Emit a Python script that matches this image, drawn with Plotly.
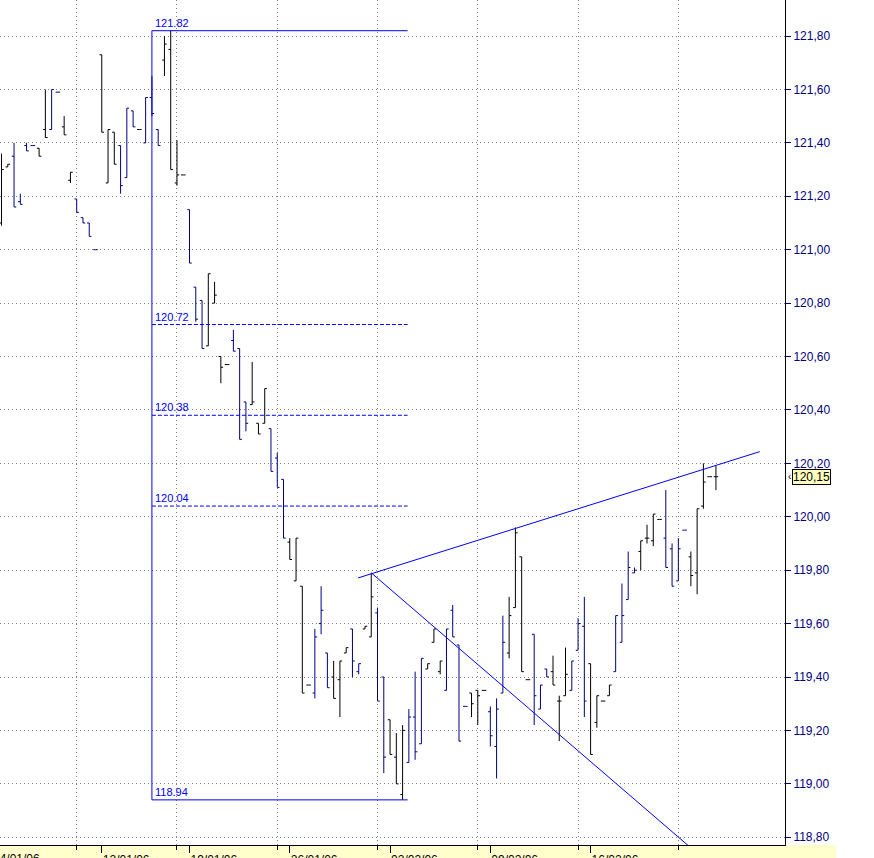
import plotly.graph_objects as go

# ---------------- data ----------------
opens = [121.10, 121.31, 121.35, 121.18, 121.39, 121.39, 121.38, 121.45, 121.45, 121.59,
         121.46, 121.26, 121.19, 121.12, 121.10, 121.00, 121.73, 121.25, 121.44, 121.39,
         121.27, 121.52, 121.45, 121.40, 121.57, 121.45, 121.71, 121.75, 121.25, 121.28,
         121.15, 120.86, 120.81, 120.64, 120.80, 120.60, 120.57, 120.66, 120.63, 120.43,
         120.42, 120.35, 120.35, 120.33, 120.22, 120.14, 119.905, 119.76, 119.74, 119.37,
         119.34, 119.60, 119.49, 119.40, 119.39, 119.49, 119.58, 119.42, 119.58, 119.55,
         119.64, 119.40, 119.24, 119.10, 118.96, 119.08, 119.25, 119.15, 119.43, 119.53,
         119.42, 119.35, 119.65, 119.52, 119.29, 119.34, 119.35, 119.35, 119.27, 119.14,
         119.34, 119.49, 119.66, 119.85, 119.39, 119.56, 119.28, 119.43, 119.42, 119.31,
         119.33, 119.35, 119.50, 119.59, 119.45, 119.23, 119.31, 119.33, 119.42, 119.53,
         119.69, 119.79, 119.87, 119.92, 119.91, 119.99, 119.92, 119.88, 119.76, 119.95,
         119.85, 119.79, 120.04, 120.15, 120.15]
highs = [121.36, 121.32, 121.40, 121.21, 121.40, 121.39, 121.38, 121.60, 121.60, 121.59,
         121.50, 121.29, 121.19, 121.12, 121.10, 121.00, 121.73, 121.45, 121.44, 121.39,
         121.53, 121.52, 121.45, 121.57, 121.65, 121.45, 121.80, 121.82, 121.41, 121.28,
         121.15, 120.86, 120.81, 120.91, 120.88, 120.60, 120.57, 120.70, 120.63, 120.43,
         120.58, 120.35, 120.48, 120.33, 120.24, 120.14, 119.92, 119.92, 119.74, 119.37,
         119.58, 119.74, 119.49, 119.46, 119.46, 119.51, 119.58, 119.45, 119.59, 119.79,
         119.66, 119.40, 119.24, 119.19, 119.22, 119.28, 119.42, 119.47, 119.45, 119.58,
         119.46, 119.58, 119.67, 119.52, 119.29, 119.34, 119.35, 119.35, 119.29, 119.32,
         119.63, 119.70, 119.96, 119.85, 119.39, 119.56, 119.37, 119.43, 119.48, 119.33,
         119.51, 119.46, 119.62, 119.70, 119.45, 119.33, 119.31, 119.37, 119.63, 119.75,
         119.87, 119.81, 119.91, 119.97, 120.01, 119.99, 120.10, 119.90, 119.92, 119.95,
         119.87, 120.03, 120.20, 120.15, 120.19]
lows = [121.09, 121.31, 121.16, 121.17, 121.37, 121.39, 121.35, 121.42, 121.45, 121.59,
        121.43, 121.25, 121.14, 121.10, 121.05, 121.00, 121.44, 121.25, 121.32, 121.21,
        121.27, 121.46, 121.45, 121.40, 121.50, 121.39, 121.65, 121.30, 121.24, 121.28,
        120.95, 120.73, 120.63, 120.64, 120.80, 120.50, 120.57, 120.62, 120.29, 120.32,
        120.42, 120.31, 120.35, 120.17, 120.11, 119.92, 119.84, 119.76, 119.34, 119.37,
        119.32, 119.56, 119.36, 119.32, 119.25, 119.49, 119.40, 119.41, 119.58, 119.55,
        119.31, 119.04, 119.11, 119.00, 118.94, 119.08, 119.09, 119.15, 119.43, 119.53,
        119.41, 119.35, 119.55, 119.16, 119.29, 119.25, 119.22, 119.35, 119.14, 119.02,
        119.34, 119.47, 119.66, 119.42, 119.39, 119.22, 119.28, 119.40, 119.37, 119.16,
        119.33, 119.35, 119.50, 119.25, 119.11, 119.21, 119.31, 119.33, 119.42, 119.53,
        119.69, 119.79, 119.80, 119.90, 119.89, 119.99, 119.81, 119.74, 119.76, 119.95,
        119.74, 119.71, 120.03, 120.15, 120.10]
closes = [121.30, 121.32, 121.16, 121.17, 121.37, 121.39, 121.35, 121.42, 121.60, 121.59,
          121.43, 121.29, 121.14, 121.10, 121.05, 121.00, 121.44, 121.45, 121.32, 121.24,
          121.53, 121.46, 121.45, 121.57, 121.51, 121.39, 121.77, 121.30, 121.28, 121.28,
          120.95, 120.74, 120.63, 120.91, 120.83, 120.56, 120.57, 120.62, 120.29, 120.35,
          120.43, 120.31, 120.48, 120.17, 120.11, 119.92, 119.84, 119.92, 119.34, 119.37,
          119.55, 119.65, 119.36, 119.32, 119.46, 119.51, 119.46, 119.45, 119.59, 119.70,
          119.31, 119.10, 119.11, 119.00, 119.20, 119.25, 119.12, 119.47, 119.45, 119.58,
          119.46, 119.58, 119.55, 119.16, 119.29, 119.30, 119.33, 119.35, 119.18, 119.28,
          119.53, 119.63, 119.94, 119.42, 119.39, 119.33, 119.37, 119.40, 119.37, 119.31,
          119.41, 119.46, 119.60, 119.31, 119.11, 119.33, 119.31, 119.37, 119.63, 119.63,
          119.81, 119.80, 119.91, 119.92, 120.01, 119.99, 119.81, 119.74, 119.88, 119.95,
          119.78, 120.03, 120.13, 120.15, 120.15]

# number of bars in each trading session (sessions alternate in colour)
session_sizes = [2, 4, 2, 2, 2, 4, 3, 3, 1, 3, 4, 3, 4, 3, 3, 3, 4, 3, 3, 2, 2, 2,
                 3, 3, 3, 4, 3, 3, 4, 3, 3, 3, 4, 4, 4, 4, 5]

date_labels = ["04/01/06", "12/01/06", "19/01/06", "26/01/06", "02/02/06", "09/02/06", "16/02/06"]
date_label_bars = [-1.5, 16, 30, 46, 62, 78, 94]
grid_bars = [12, 28, 44, 60, 76, 92, 108]

# retracement box (high / low of the move)
fib_high = 121.82
fib_low = 118.94
fib_ratios = [0.382, 0.5, 0.618]
fib_start_bar = 24
fib_end_bar = 64.8

# trend lines (bar index, price)
upper_trend_x = [56.9, 121.0]
upper_trend_y = [119.771, 120.244]
lower_trend_x = [59.0, 112.0]
lower_trend_y = [119.79, 118.72]

x_range = [-0.24, 125.02]
y_range = [118.771, 121.935]

# ---------------- figure ----------------
BLACK = "#000000"
NAVY = "#000080"
BLUE = "#0000FF"
FONT = "Liberation Sans, Arial, sans-serif"

n = len(closes)
session_of_bar = []
for s, size in enumerate(session_sizes):
    session_of_bar += [s] * size
session_of_bar = session_of_bar[:n]

fig = go.Figure()
for parity, col in ((0, BLACK), (1, NAVY)):
    idx = [i for i in range(n) if session_of_bar[i] % 2 == parity]
    fig.add_trace(go.Ohlc(
        x=idx,
        open=[opens[i] for i in idx], high=[highs[i] for i in idx],
        low=[lows[i] for i in idx], close=[closes[i] for i in idx],
        increasing=dict(line=dict(color=col, width=1)),
        decreasing=dict(line=dict(color=col, width=1)),
        tickwidth=0.36, hoverinfo="skip", showlegend=False,
    ))

# retracement box
fig.add_trace(go.Scatter(
    x=[fib_end_bar, fib_start_bar, fib_start_bar, fib_end_bar],
    y=[fib_high, fib_high, fib_low, fib_low],
    mode="lines", line=dict(color=BLUE, width=1), hoverinfo="skip",
    showlegend=False, xaxis="x2"))
fib_levels = [fib_high - r * (fib_high - fib_low) for r in fib_ratios]
for lv in fib_levels:
    fig.add_trace(go.Scatter(
        x=[fib_start_bar, fib_end_bar], y=[lv, lv], mode="lines",
        line=dict(color=BLUE, width=1, dash="4px,2px"), hoverinfo="skip",
        showlegend=False))
for lv in [fib_high] + fib_levels + [fib_low]:
    fig.add_annotation(x=fib_start_bar, y=lv, xref="x", yref="y",
                       text=f"{lv:.2f}", showarrow=False, xanchor="left",
                       yanchor="bottom", xshift=1, yshift=0,
                       font=dict(family=FONT, size=11, color=BLUE))

# trend lines
fig.add_trace(go.Scatter(x=upper_trend_x, y=upper_trend_y, mode="lines",
                         line=dict(color=BLUE, width=1), hoverinfo="skip", showlegend=False))
fig.add_trace(go.Scatter(x=lower_trend_x, y=lower_trend_y, mode="lines",
                         line=dict(color=BLUE, width=1), hoverinfo="skip", showlegend=False))

# last price marker on the axis
last = closes[-1]
fig.add_annotation(x=1, y=last, xref="paper", yref="y", text=f"{last:.2f}".replace(".", ","),
                   showarrow=False, xanchor="left", yanchor="middle", xshift=7,
                   bgcolor="#FFFFC0", bordercolor=BLACK, borderwidth=1, borderpad=0,
                   font=dict(family=FONT, size=12, color=BLACK))
fig.add_annotation(x=1, y=last, xref="paper", yref="y", text="‹",
                   showarrow=False, xanchor="left", yanchor="middle", xshift=1,
                   font=dict(family=FONT, size=10, color=BLACK))

# first (partly hidden) date label
fx = (date_label_bars[0] - x_range[0]) / (x_range[1] - x_range[0])
fig.add_annotation(x=fx, y=0, xref="paper", yref="paper", text=date_labels[0],
                   showarrow=False, xanchor="left", yanchor="top", xshift=-1, yshift=-5,
                   font=dict(family=FONT, size=12, color=BLACK))

# yellow date strip
fig.add_shape(type="rect", xref="paper", yref="paper", x0=0, x1=836 / 785,
              y0=-13 / 845, y1=0, fillcolor="#FFFFCC", line=dict(width=0), layer="below")

fig.update_layout(
    width=874, height=858, autosize=False,
    margin=dict(l=0, r=89, t=0, b=13, pad=0, autoexpand=False),
    paper_bgcolor="white", plot_bgcolor="white",
    separators=",.",
    showlegend=False,
    xaxis=dict(range=x_range, showgrid=False, zeroline=False, showline=True,
               automargin=False,
               linecolor=BLACK, linewidth=1, ticks="outside", ticklen=7, tickcolor=BLACK,
               tickvals=date_label_bars[1:], ticktext=date_labels[1:],
               ticklabelposition="outside right", ticklabelstandoff=4,
               tickfont=dict(family=FONT, size=12, color=BLACK),
               rangeslider=dict(visible=False)),
    xaxis2=dict(overlaying="x", matches="x", anchor="y", side="bottom", automargin=False,
                tickvals=grid_bars, showticklabels=False, ticks="outside", ticklen=4,
                tickcolor=BLACK, showgrid=True, gridcolor="#808080", gridwidth=1,
                griddash="1px,3px", showline=False, zeroline=False),
    yaxis=dict(side="right", range=y_range, tick0=118.8, dtick=0.2, tickformat=".2f",
               automargin=False,
               showgrid=True, gridcolor="#808080", gridwidth=1, griddash="1px,3px",
               showline=True, linecolor=BLACK, linewidth=1, zeroline=False,
               ticks="outside", ticklen=5, tickcolor=NAVY,
               tickfont=dict(family=FONT, size=12, color=NAVY)),
)

fig.write_html("out.html", config={"displayModeBar": False},
               post_script="document.body.style.margin='0px';")
